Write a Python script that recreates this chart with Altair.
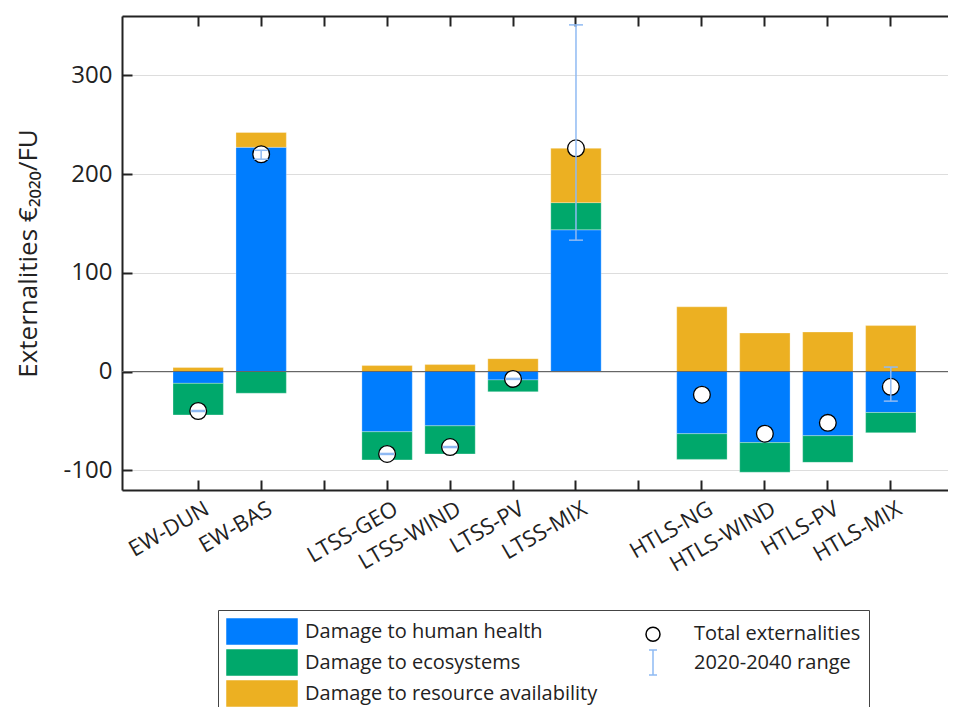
import altair as alt
import pandas as pd

# ---------------- data ----------------
categories = ["EW-DUN", "EW-BAS", "LTSS-GEO", "LTSS-WIND", "LTSS-PV", "LTSS-MIX",
              "HTLS-NG", "HTLS-WIND", "HTLS-PV", "HTLS-MIX"]
x_slots = ["EW-DUN", "EW-BAS", "gap1", "LTSS-GEO", "LTSS-WIND", "LTSS-PV", "LTSS-MIX",
           "gap2", "HTLS-NG", "HTLS-WIND", "HTLS-PV", "HTLS-MIX"]
components = ["Damage to human health", "Damage to ecosystems", "Damage to resource availability"]

health = [-12, 227, -61, -55, -8.5, 143.5, -63, -72, -65, -41.5]
ecosystems = [-32, -22, -28.5, -28.5, -12, 27.5, -26, -30, -27, -20.5]
resources = [4, 15, 6, 7, 13, 55, 65.5, 39, 40, 46.5]
total = [-40, 220, -83.5, -76.5, -7.5, 226, -23.5, -63, -52, -15.5]
range_low = [-40.5, 215, -84, -77, -8, 133, None, None, None, -30]
range_high = [-39.5, 224, -83, -76, -7, 351, None, None, None, 4.5]

# legend entries, filled column by column (2 columns)
legend_items = ["Damage to human health", "Damage to ecosystems", "Damage to resource availability",
                "Total externalities", "2020-2040 range"]

# ---------------- styling ----------------
BLUE, GREEN, ORANGE = "#007dfe", "#00a86b", "#ecb022"
ERR = "#8fbaf3"
AX = "#222222"
FONT = "Open Sans, Noto Sans, sans-serif"

rows = []
for i, c in enumerate(categories):
    for k, (comp, vals) in enumerate(zip(components, [health, ecosystems, resources])):
        rows.append({"cat": c, "component": comp, "ord": k, "value": vals[i]})
bars_df = pd.DataFrame(rows)

tot_df = pd.DataFrame({"cat": categories, "total": total})
err_df = pd.DataFrame({"cat": categories, "lo": range_low, "hi": range_high}).dropna()
caps_rows = []
for _, r in err_df.iterrows():
    caps_rows.append({"cat": r["cat"], "v": r["lo"]})
    caps_rows.append({"cat": r["cat"], "v": r["hi"]})
caps_df = pd.DataFrame(caps_rows)
leg_df = pd.DataFrame({"item": legend_items})

x_scale = alt.Scale(domain=x_slots, range=[0, 845], paddingInner=0.2, paddingOuter=0.81)
y_scale = alt.Scale(domain=[-120, 360], nice=False, zero=False)
y_ticks = [-100, 0, 100, 200, 300]

bars = alt.Chart(bars_df).mark_bar(stroke="white", strokeWidth=0.6, strokeOpacity=0.5).encode(
    x=alt.X("cat:N", scale=x_scale, title=None,
            axis=alt.Axis(orient="bottom", labelAngle=-30, labelAlign="right", labelBaseline="top",
                          labelPadding=8, labelFontSize=22, ticks=False, domain=True,
                          domainColor=AX, domainWidth=2, labelColor=AX, labelOffset=4,
                          labelExpr="indexof(datum.label, 'gap') == 0 ? '' : datum.label")),
    y=alt.Y("value:Q", scale=y_scale, stack="zero", title="Externalities €₂₀₂₀/FU",
            axis=alt.Axis(orient="left", values=y_ticks, ticks=False, labelPadding=10,
                          labelFontSize=24, labelColor=AX, titleFontSize=26,
                          labelExpr="'' + datum.value",
                          titleFontWeight="normal", titleColor=AX, titlePadding=22,
                          domainWidth=2, domainColor=AX)),
    color=alt.Color("component:N", scale=alt.Scale(domain=components, range=[BLUE, GREEN, ORANGE]),
                    legend=None),
    order=alt.Order("ord:Q"),
)

zero = alt.Chart(tot_df).mark_rule(color="#666666", strokeWidth=1.2).encode(
    y=alt.YDatum(0, scale=y_scale, axis=None)
)

circles = alt.Chart(tot_df).mark_point(shape="circle", filled=True, fill="white", stroke="black",
                                       strokeWidth=1.3, size=280, opacity=1).encode(
    x=alt.X("cat:N", scale=x_scale, title=None,
            axis=alt.Axis(orient="bottom", offset=-474, labels=False, ticks=True, tickSize=10,
                          tickWidth=2, tickColor=AX, domain=True, domainWidth=2, domainColor=AX)),
    y=alt.Y("total:Q", scale=y_scale, title=None,
            axis=alt.Axis(orient="right", offset=-826, labels=False, ticks=True, tickSize=10,
                          tickWidth=2, tickColor=AX, domain=False, values=y_ticks)),
)

err = alt.Chart(err_df).mark_rule(color=ERR, strokeWidth=1.5).encode(
    x=alt.X("cat:N", scale=x_scale, title=None,
            axis=alt.Axis(orient="top", offset=-474, labels=False, ticks=True, tickSize=10,
                          tickWidth=2, tickColor=AX, domain=False)),
    y=alt.Y("lo:Q", scale=y_scale, axis=None),
    y2="hi:Q",
)

caps = alt.Chart(caps_df).mark_tick(color=ERR, thickness=1.5, size=14, orient="horizontal",
                                    opacity=1).encode(
    x=alt.X("cat:N", scale=x_scale, axis=None),
    y=alt.Y("v:Q", scale=y_scale, axis=None),
)

# legend symbol shapes (unit = half of the 25px symbol slot)
RECT = "M-1,-1 H4.6 V1 H-1 Z"
CIRC = "M1.4,0 A0.56,0.56 0 1,0 2.52,0 A0.56,0.56 0 1,0 1.4,0 Z"
IBAR = "M1.96,-1 V1 M1.64,-1 H2.28 M1.64,1 H2.28"

leg = alt.Legend(orient="none", legendX=96, legendY=594, columns=2, title=None,
                 labelFontSize=20, labelFont=FONT, labelColor=AX, symbolSize=625,
                 symbolStrokeWidth=1.5, symbolOpacity=1, labelOffset=52, rowPadding=0,
                 columnPadding=17, padding=8, strokeColor="#444444", labelLimit=400)

legend_layer = alt.Chart(leg_df).transform_filter("false").mark_point(
    filled=False, opacity=1, strokeWidth=1.5).encode(
    fill=alt.Fill("item:N", scale=alt.Scale(domain=legend_items,
                                            range=[BLUE, GREEN, ORANGE, "white", "transparent"]),
                  legend=leg),
    stroke=alt.Stroke("item:N", scale=alt.Scale(domain=legend_items,
                                                range=[BLUE, GREEN, ORANGE, "black", ERR]),
                      legend=leg),
    shape=alt.Shape("item:N", scale=alt.Scale(domain=legend_items,
                                              range=[RECT, RECT, RECT, CIRC, IBAR]),
                    legend=leg),
)

chart = alt.layer(bars, zero, circles, err, caps, legend_layer).resolve_axis(
    x="independent", y="independent"
).properties(
    width=826, height=474,
    autosize=alt.AutoSizeParams(type="none"),
    padding={"left": 114, "top": 8, "right": 0, "bottom": 217},
).configure_view(stroke=None).configure_axis(
    grid=False, labelFont=FONT, titleFont=FONT
).configure(font=FONT)

chart.save("out.html", embed_options={"renderer": "svg", "actions": False})
